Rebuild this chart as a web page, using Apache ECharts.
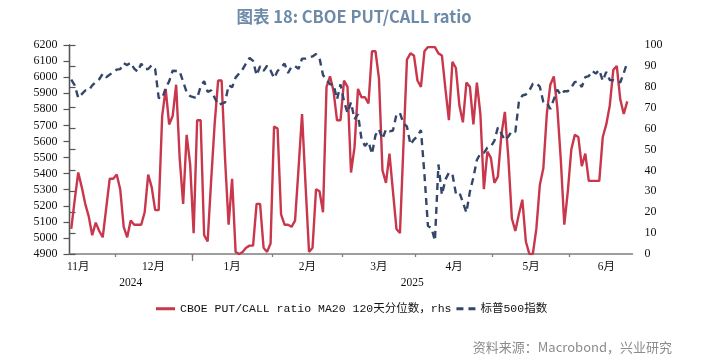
<!DOCTYPE html>
<html><head><meta charset="utf-8">
<script src="https://cdn.jsdelivr.net/npm/echarts@6/dist/echarts.min.js"></script>
<style>html,body{margin:0;padding:0;background:#fff}#c{width:708px;height:355px}</style>
</head><body><div id="c"></div>
<script>
// ---- data ----
const startDate = '2024-11-13';       // first weekday on the axis
const axisEndDate = '2025-06-26';     // axis right boundary
const monthBounds = ['2024-11-01','2024-12-01','2025-01-01','2025-02-01','2025-03-01','2025-04-01','2025-05-01','2025-06-01','2025-07-01'];
const monthLabels = ['11月','12月','1月','2月','3月','4月','5月','6月'];
const yearBounds = ['2024-11-13','2025-01-01','2025-06-26'];
const yearLabels = ['2024','2025'];
const leftTicks = [4900,6200,100];
const rightTicks = [0,100,10];
const seriesNames = ['CBOE PUT/CALL ratio MA20 120天分位数，rhs','标普500指数'];

// CBOE PUT/CALL ratio MA20 120-day percentile (rhs), one value per weekday from 2024-11-13
const putCallPct = [
12,26,39,32,24,18,9,15,11,8,22,36,36,38,31,13,8,16,14,14,
14,20,38,32,21,21,66,79,62,66,81,46,24,57,43,10,64,64,9,6,
35,62,83,83,45,14,36,1,0,1,3,4,4,24,24,3,1,5,61,60,
19,14,14,13,16,41,67,33,1,3,31,30,20,80,85,78,64,64,83,80,
39,51,79,75,75,72,97,97,84,40,34,48,30,12,10,52,93,96,95,83,
80,97,99,99,99,96,95,79,64,92,89,71,63,82,80,62,82,67,31,49,
46,34,37,57,68,46,17,11,19,26,6,0,0,12,33,41,67,81,85,70,
45,14,30,50,57,56,42,48,35,35,35,35,56,62,71,88,90,74,67,73
];
// S&P 500 index, one value per weekday from 2024-11-13 (null = market holiday)
const spx = [
5985,5949,5871,5894,5917,5917,5949,5970,5987,6021,5999,null,6032,6047,6050,6087,6075,6090,6053,6034,
6084,6051,6051,6074,6050,5872,5867,5931,5974,6040,null,6037,5971,5907,5882,null,5869,5942,5975,5909,
5918,null,5827,5836,5843,5950,5937,5997,null,6049,6086,6119,6101,6012,6068,6039,6071,6041,5994,6038,
6061,6084,6026,6066,6068,6052,6115,6115,null,6129,6144,6118,6013,5983,5955,5956,5862,5955,5850,5778,
5843,5739,5770,5615,5572,5599,5522,5639,5675,5615,5675,5663,5668,5768,5777,5712,5693,5581,5612,5633,
5671,5397,5074,5062,4983,5457,5268,5363,5406,5397,5276,5283,null,5158,5288,5376,5485,5525,5529,5561,
5569,5604,5687,5650,5607,5631,5664,5660,5844,5886,5892,5917,5958,5964,5940,5845,5842,5802,null,5922,
5889,5913,5912,5936,5970,5971,5939,6000,6006,6039,6022,6045,5977,6033,5982,5981,null,5967,6025,6092
];

// ---- helpers: weekday-based position ----
function parse(s){const [y,m,d]=s.split('-').map(Number);return Date.UTC(y,m-1,d);}
function wd(s){ // number of weekdays between startDate and s (negative if before)
  const a=parse(startDate), b=parse(s), day=86400000;
  let n=0;
  if(b>=a){for(let t=a;t<b;t+=day){const w=new Date(t).getUTCDay();if(w!==0&&w!==6)n++;}}
  else{for(let t=b;t<a;t+=day){const w=new Date(t).getUTCDay();if(w!==0&&w!==6)n--;}}
  return n;
}
const xMax = wd(axisEndDate);
const mIdx = monthBounds.map(wd);
const monthTickVals = mIdx.slice(1,-1);
const monthLabelVals = monthLabels.map((_,i)=>(mIdx[i]+mIdx[i+1])/2);
const yIdx = yearBounds.map(wd);
const yearLabelVals = yearLabels.map((_,i)=>(yIdx[i]+yIdx[i+1])/2);
const key=v=>Number(v).toFixed(2);
const monthMap={}; monthLabelVals.forEach((v,i)=>monthMap[key(v)]=monthLabels[i]);
const yearMap={}; yearLabelVals.forEach((v,i)=>yearMap[key(v)]=yearLabels[i]);

const redData = putCallPct.map((v,i)=>[i+0.5,v]);
const spxData = spx.map((v,i)=>[i+0.5,v]);

const RED='#c8374b', NAVY='#34466a';
const serif = "'Liberation Serif','Times New Roman','Noto Sans CJK SC',serif";
const chart = echarts.init(document.getElementById('c'), null, {renderer:'canvas'});
chart.setOption({
  animation:false,
  backgroundColor:'#ffffff',
  title:[{
    text:'图表 18: CBOE PUT/CALL ratio', left:'center', top:3,
    textStyle:{fontFamily:"'Noto Sans CJK SC','Noto Sans',sans-serif",fontSize:16.5,fontWeight:'bold',color:'#6d8aa9'}
  },{
    text:'资料来源：Macrobond，兴业研究', right:31, top:336,
    textStyle:{fontFamily:"'Noto Sans CJK SC',sans-serif",fontSize:13,fontWeight:'normal',color:'#8c8c8c'}
  }],
  legend:{
    left:151, top:298, itemWidth:19, itemHeight:3, itemGap:5,
    textStyle:{fontFamily:"'Liberation Mono','Noto Sans CJK SC',monospace",fontSize:11.5,color:'#111'},
    data:[
      {name:seriesNames[0], icon:'rect', itemStyle:{color:RED}},
      {name:seriesNames[1], icon:'path://M0,0h7v3h-7z M12,0h7v3h-7z', itemStyle:{color:NAVY}}
    ]
  },
  grid:{left:69.5,right:75.5,top:45,bottom:101,containLabel:false},
  xAxis:[{
    type:'value', min:0, max:xMax,
    axisLine:{show:true,lineStyle:{color:'#7f7f7f',width:1.5}},
    axisTick:{show:true,customValues:monthTickVals,length:3,lineStyle:{color:'#7f7f7f',width:1.3}},
    axisLabel:{show:true,customValues:monthLabelVals,margin:7,
      formatter:v=>monthMap[key(v)]||'',
      fontFamily:serif,fontSize:11.5,color:'#111'},
    splitLine:{show:false}
  },{
    type:'value', min:0, max:xMax, position:'bottom', offset:0,
    axisLine:{show:false},
    axisTick:{show:true,customValues:[yIdx[1]],length:7,lineStyle:{color:'#7f7f7f',width:1.3}},
    axisLabel:{show:true,customValues:yearLabelVals,margin:23,
      formatter:v=>yearMap[key(v)]||'',
      fontFamily:serif,fontSize:11.5,color:'#111'},
    splitLine:{show:false}
  }],
  yAxis:[{
    type:'value', position:'left', min:leftTicks[0], max:leftTicks[1], interval:leftTicks[2],
    axisLine:{show:true,lineStyle:{color:'#555',width:1.3}},
    axisTick:{show:true,inside:false,length:6,lineStyle:{color:'#555',width:1.2}},
    axisLabel:{margin:12,fontFamily:serif,fontSize:12,color:'#111',formatter:v=>String(v)},
    splitLine:{show:false}
  },{
    type:'value', position:'right', min:rightTicks[0], max:rightTicks[1], interval:rightTicks[2],
    axisLine:{show:true,lineStyle:{color:'#555',width:1.3}},
    axisTick:{show:true,inside:false,length:6,lineStyle:{color:'#555',width:1.2}},
    axisLabel:{margin:12,fontFamily:serif,fontSize:12,color:'#111',formatter:v=>String(v)},
    splitLine:{show:false}
  }],
  series:[{
    name:seriesNames[0], type:'line', xAxisIndex:0, yAxisIndex:1,
    data:redData, showSymbol:false, symbol:'none',
    lineStyle:{color:RED,width:2.4}, itemStyle:{color:RED}
  },{
    name:seriesNames[1], type:'line', xAxisIndex:0, yAxisIndex:0,
    data:spxData, showSymbol:false, symbol:'none', connectNulls:true,
    lineStyle:{color:NAVY,width:2.4,type:[7,5]}, itemStyle:{color:NAVY}
  }]
});
</script></body></html>
